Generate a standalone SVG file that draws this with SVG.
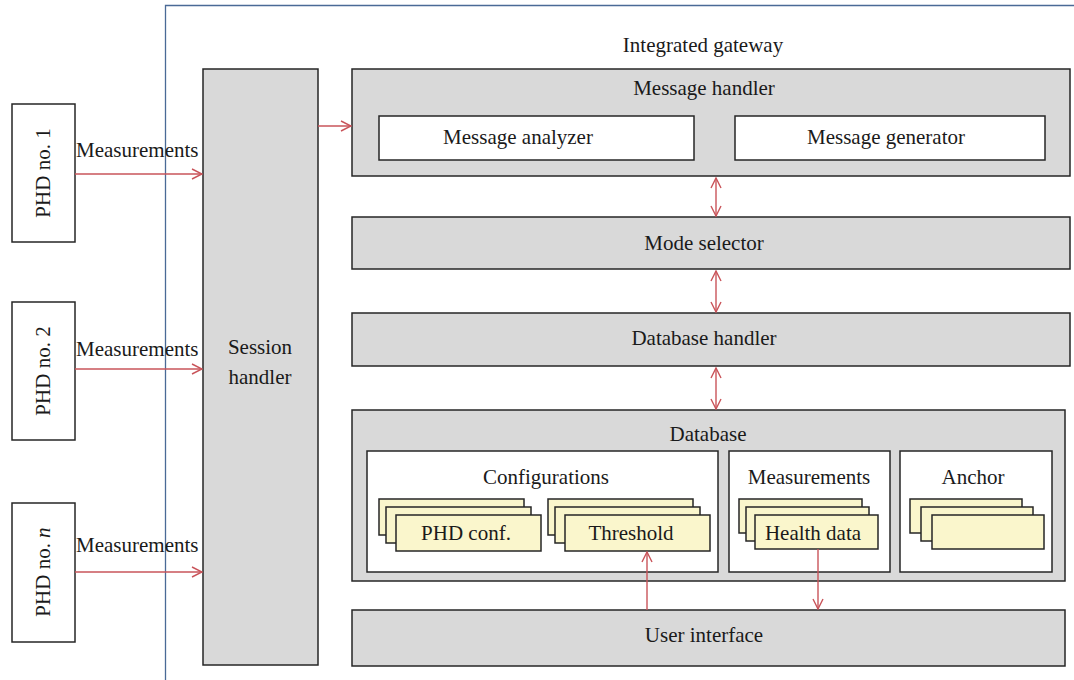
<svg xmlns="http://www.w3.org/2000/svg" width="1074" height="680" viewBox="0 0 1074 680">
<defs>
<style>
text{font-family:"Liberation Serif","Times New Roman",serif;font-size:21px;fill:#1a1a1a}
.c{text-anchor:middle}
.g{fill:#d9d9d9;stroke:#262626;stroke-width:1.5}
.w{fill:#ffffff;stroke:#262626;stroke-width:1.5}
.y{fill:#faf6cc;stroke:#262626;stroke-width:1.5}
.a{stroke:#c9545a;stroke-width:1.4;fill:none}
</style>
<marker id="ah" viewBox="0 0 12 12" refX="11" refY="6" markerWidth="12" markerHeight="12" markerUnits="userSpaceOnUse" orient="auto-start-reverse">
<path d="M1,1 L11,6 L1,11" fill="none" stroke="#c9545a" stroke-width="1.4"/>
</marker>
</defs>
<rect width="1074" height="680" fill="#ffffff"/>
<g id="gateway">
<path d="M165.5,680 V5.5 H1074" fill="none" stroke="#4a6a96" stroke-width="1.3"/>
<text class="c" x="703" y="52">Integrated gateway</text>
</g>
<g id="phd1"><rect class="w" x="12" y="104" width="63" height="138"/><text class="c" transform="translate(50,173) rotate(-90)">PHD no. 1</text></g>
<g id="phd2"><rect class="w" x="12" y="302" width="63" height="138"/><text class="c" transform="translate(50,371) rotate(-90)">PHD no. 2</text></g>
<g id="phdn"><rect class="w" x="12" y="503" width="63" height="139"/><text class="c" transform="translate(50,572) rotate(-90)">PHD no. <tspan font-style="italic">n</tspan></text></g>
<g id="session"><rect class="g" x="203" y="69" width="115" height="596"/><text class="c" x="260" y="354">Session</text><text class="c" x="260" y="384">handler</text></g>
<g id="msghandler">
<rect class="g" x="352" y="69" width="718" height="107"/>
<text class="c" x="704" y="95">Message handler</text>
<rect class="w" x="379" y="116" width="315" height="44"/>
<text class="c" x="518" y="144">Message analyzer</text>
<rect class="w" x="735" y="116" width="310" height="44"/>
<text class="c" x="886" y="144">Message generator</text>
</g>
<g id="modeselector"><rect class="g" x="352" y="217" width="718" height="52"/><text class="c" x="704" y="250">Mode selector</text></g>
<g id="dbhandler"><rect class="g" x="352" y="313" width="718" height="53"/><text class="c" x="704" y="345">Database handler</text></g>
<g id="database">
<rect class="g" x="352" y="410" width="713" height="171"/>
<text class="c" x="708" y="441">Database</text>
<rect class="w" x="367" y="451" width="351" height="121"/>
<text class="c" x="546" y="484">Configurations</text>
<rect class="y" x="379" y="499" width="145" height="36"/>
<rect class="y" x="386" y="507" width="145" height="36"/>
<rect class="y" x="396" y="515" width="145" height="36"/>
<text class="c" x="466" y="540">PHD conf.</text>
<rect class="y" x="548" y="499" width="145" height="36"/>
<rect class="y" x="555" y="507" width="145" height="36"/>
<rect class="y" x="565" y="515" width="145" height="36"/>
<text class="c" x="631" y="540">Threshold</text>
<rect class="w" x="729" y="451" width="161" height="121"/>
<text class="c" x="809" y="484">Measurements</text>
<rect class="y" x="739" y="499" width="123" height="34"/>
<rect class="y" x="746" y="507" width="123" height="34"/>
<rect class="y" x="755" y="515" width="123" height="34"/>
<text class="c" x="813" y="540">Health data</text>
<rect class="w" x="900" y="451" width="152" height="121"/>
<text class="c" x="973" y="484">Anchor</text>
<rect class="y" x="910" y="499" width="112" height="34"/>
<rect class="y" x="921" y="507" width="112" height="34"/>
<rect class="y" x="932" y="515" width="112" height="34"/>
</g>
<g id="ui"><rect class="g" x="352" y="610" width="713" height="56"/><text class="c" x="704" y="642">User interface</text></g>
<g id="connectors">
<line class="a" x1="75" y1="174" x2="202" y2="174" marker-end="url(#ah)"/>
<line class="a" x1="75" y1="369" x2="202" y2="369" marker-end="url(#ah)"/>
<line class="a" x1="75" y1="572" x2="202" y2="572" marker-end="url(#ah)"/>
<line class="a" x1="318" y1="126" x2="351" y2="126" marker-end="url(#ah)"/>
<line class="a" x1="716" y1="178" x2="716" y2="216" marker-start="url(#ah)" marker-end="url(#ah)"/>
<line class="a" x1="716" y1="271" x2="716" y2="312" marker-start="url(#ah)" marker-end="url(#ah)"/>
<line class="a" x1="716" y1="368" x2="716" y2="409" marker-start="url(#ah)" marker-end="url(#ah)"/>
<line class="a" x1="647" y1="610" x2="647" y2="552" marker-end="url(#ah)"/>
<line class="a" x1="818" y1="549" x2="818" y2="609" marker-end="url(#ah)"/>
<text x="76" y="157">Measurements</text>
<text x="76" y="356">Measurements</text>
<text x="76" y="552">Measurements</text>
</g>
</svg>
